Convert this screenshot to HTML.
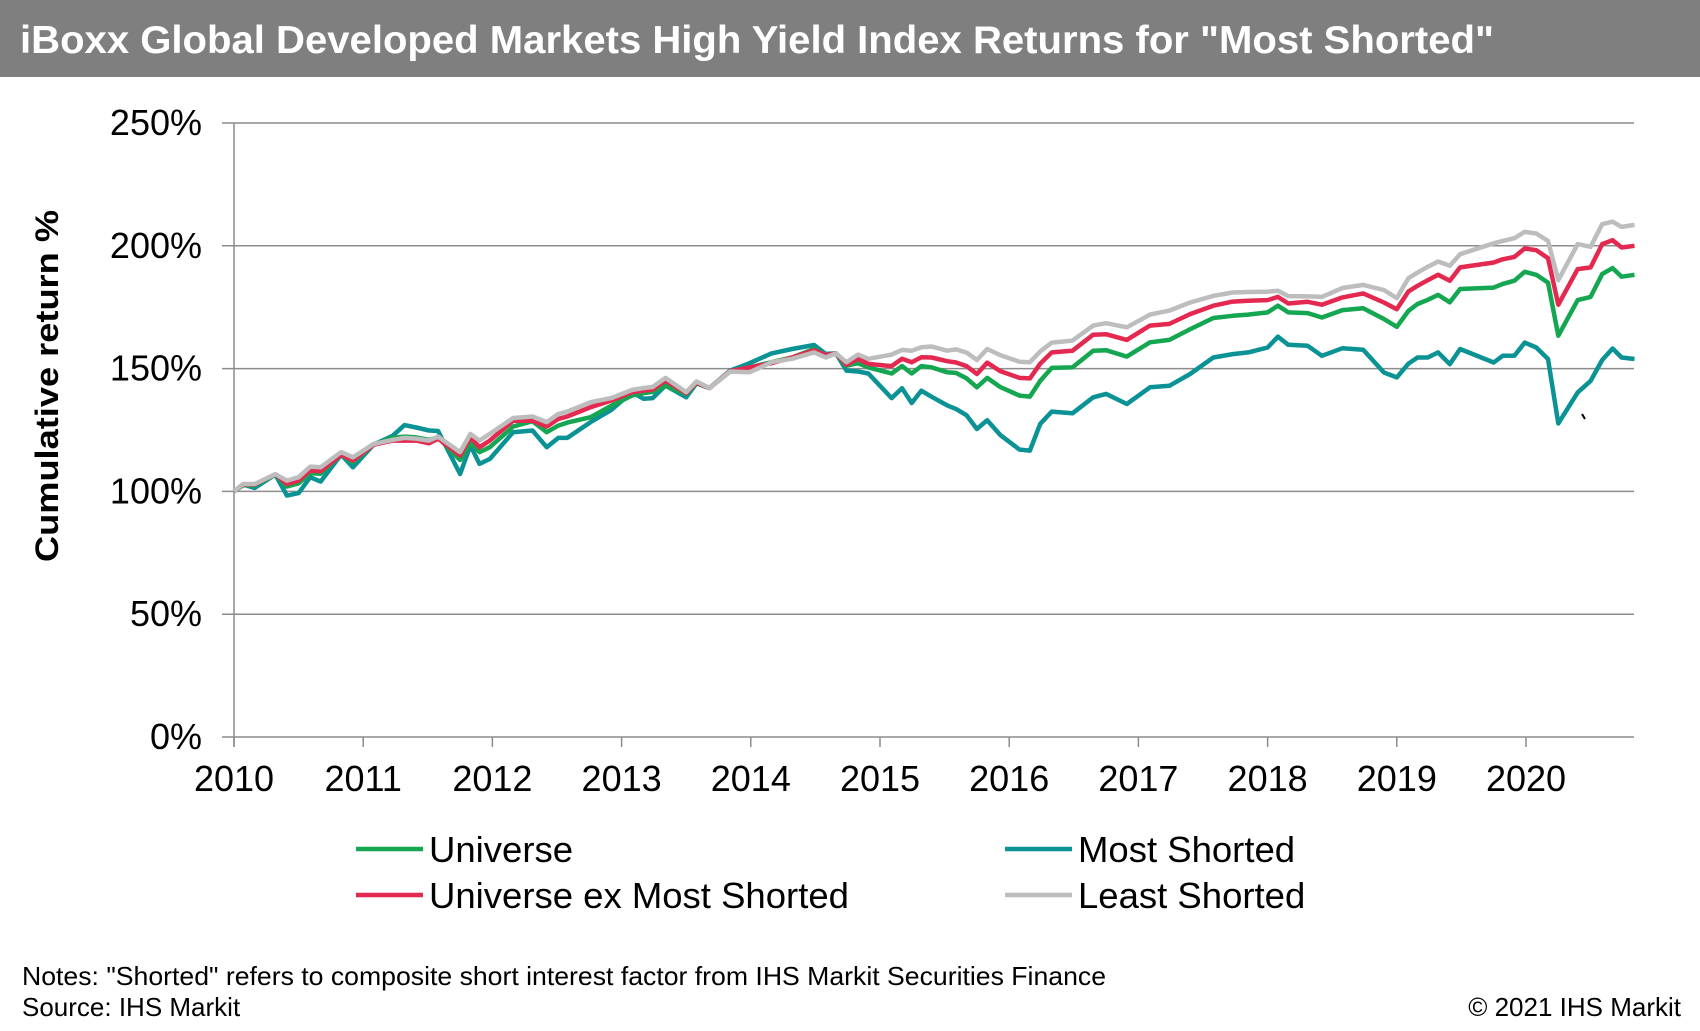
<!DOCTYPE html>
<html><head><meta charset="utf-8">
<style>
html,body{margin:0;padding:0;background:#fff;}
svg{display:block;font-family:"Liberation Sans",Arial,sans-serif;}
</style></head>
<body>
<svg id="chart" width="1700" height="1031" viewBox="0 0 1700 1031" xmlns="http://www.w3.org/2000/svg">
  <rect x="0" y="0" width="1700" height="77" fill="#7f7f7f"/>
  <text x="20" y="53" font-size="39" font-weight="bold" fill="#fff" textLength="1474" lengthAdjust="spacingAndGlyphs">iBoxx Global Developed Markets High Yield Index Returns for "Most Shorted"</text>
  <g id="grid"></g>
  <g id="axes"></g>
  <g id="series"></g>
  <text transform="translate(58,386) rotate(-90)" text-anchor="middle" font-size="32" font-weight="bold" fill="#000" textLength="352" lengthAdjust="spacingAndGlyphs">Cumulative return %</text>
  <g id="legend"></g>
  <line x1="1582" y1="414" x2="1585" y2="419" stroke="#000" stroke-width="2"/>
  <text x="22" y="985" font-size="26" fill="#000" textLength="1084" lengthAdjust="spacingAndGlyphs">Notes: "Shorted" refers to composite short interest factor from IHS Markit Securities Finance</text>
  <text x="22" y="1016" font-size="26" fill="#000">Source: IHS Markit</text>
  <text x="1681" y="1016" font-size="26" fill="#000" text-anchor="end">© 2021 IHS Markit</text>
</svg>
<script>
// Data: years offset from 2010
const dates = [0.00,0.07,0.16,0.32,0.41,0.50,0.59,0.67,0.83,0.92,1.08,1.23,1.32,1.41,1.51,1.58,1.75,1.83,1.90,1.98,2.16,2.31,2.42,2.51,2.58,2.76,2.92,3.08,3.17,3.24,3.34,3.50,3.58,3.68,3.84,3.99,4.16,4.32,4.49,4.58,4.66,4.74,4.83,4.91,5.09,5.17,5.245,5.32,5.40,5.52,5.59,5.67,5.75,5.83,5.93,6.08,6.16,6.24,6.33,6.49,6.65,6.75,6.91,7.09,7.24,7.40,7.58,7.73,7.85,8.0,8.08,8.16,8.31,8.42,8.58,8.74,8.90,9.0,9.09,9.16,9.24,9.32,9.41,9.49,9.75,9.82,9.91,9.99,10.08,10.17,10.25,10.40,10.50,10.59,10.67,10.74,10.84];
const universe = [100,102.5,102.5,106.9,102,103.3,107.4,107.2,115,111.9,119,121.8,122.3,122,121,122,112.8,120,116,118,126.4,128.6,124.1,126.8,128,130.2,134.9,139,140,140.5,143.1,139.7,144,142.1,148.8,150.5,152.6,154.5,158,155.5,156.2,151.2,152.2,150.5,148,151,148,151,150.5,148.5,148.2,146,142.4,146.2,142.5,139,138.6,145,150.3,150.5,157.3,157.5,154.9,160.7,161.7,166,170.6,171.5,172,172.9,175.6,172.9,172.6,170.8,173.8,174.6,170.2,167,173.5,176.3,178,180,177,182.4,183,184.5,185.8,189.4,188.2,185,163.4,177.9,179.2,188.5,190.9,187.4,188.2];
const exMost = [100,102.8,102.8,107,103,104.4,108.5,108.2,115,112.6,119,120.7,120.7,120.7,119.6,121.5,114.6,122,118,120.7,128.8,128.8,126.4,129.5,130.5,134.3,137,140.4,141,141.5,145.1,140,144.4,142.1,149,150.5,152.2,154.5,157.5,155.5,156.2,151.6,154,151.9,151,154,152.6,154.6,154.5,153,152.5,151,147.8,152.4,149,146.2,146,152,156.6,157.3,163.8,164,161.7,167.5,168.2,172.2,175.6,177.3,177.6,177.9,179.2,176.5,177.2,176,179,180.6,176.9,174.2,181.4,183.7,186,188.2,185.8,191.2,193.2,194.5,195.5,198.9,198.2,195,176,190.5,191.2,200.7,202.3,199.3,200];
const mostShorted = [100,102.8,101.4,106.9,98.3,99.3,105.8,104,115,109.8,119,122.7,127,126,124.8,124.6,107.1,118.7,111.2,113.2,124.1,124.8,118,121.8,121.8,128.2,133.2,140.4,137.7,138,143.1,138.3,144,142.1,149.2,152.2,156.2,158,159.6,156,156.2,149.2,148.8,148,138,142,136,141,138.5,135,133.5,131,125.4,129,123,117,116.6,127.5,132.5,131.8,138.3,139.7,135.6,142.4,143,147.8,154.5,155.9,156.6,158.6,163,159.7,159.3,155.2,158.3,157.7,148.4,146.4,152,154.5,154.5,156.6,151.8,158,152.5,155.2,155.2,160.6,158.6,153.9,127.7,140.3,145,153.5,158.2,154.5,153.9];
const leastShorted = [100,103,103,107,104.4,105.8,110.1,109.8,116,113.9,119.3,121,121.8,121.5,120.7,122.3,116,123.4,120.7,123.4,129.9,130.5,128.2,131.5,132.5,136.3,138,141.3,142.1,142.5,146.2,140.4,144.8,142.1,148.8,148.5,152.6,154,156.6,154.5,156.2,152.6,155.7,154,155.7,157.6,157.3,158.7,159,157.3,157.8,156.5,153.5,158,155.5,152.8,152.6,157,160.6,161.4,167.5,168.5,166.8,172,173.6,176.9,179.6,181,181.2,181.3,181.7,179.5,179.4,179.2,182.8,184.1,182,178.7,186.8,189.1,191.5,193.6,191.9,196.6,201,202,203.1,205.7,205,202,186,200.7,199.6,208.8,209.8,207.7,208.5];
const yTicks = [0,50,100,150,200,250];
const yTickLabels = ["0%","50%","100%","150%","200%","250%"];
const xTicks = [0,1,2,3,4,5,6,7,8,9,10];
const xTickLabels = ["2010","2011","2012","2013","2014","2015","2016","2017","2018","2019","2020"];

const NS = "http://www.w3.org/2000/svg";
const X0 = 234, XPY = 129.2, Y0 = 737, YT = 123, XEND = 1634;
function xs(t){ return X0 + t*XPY; }
function ys(v){ return Y0 - (v/250)*(Y0-YT); }
function mk(tag, attrs, parent){ const e=document.createElementNS(NS,tag); for(const k in attrs) e.setAttribute(k,attrs[k]); parent.appendChild(e); return e; }

const grid = document.getElementById('grid');
const axes = document.getElementById('axes');
yTicks.forEach((v,i)=>{
  const y = ys(v);
  const gl = mk('line',{x1:222,y1:y,x2:XEND,y2:y,stroke:'#8c8c8c','stroke-width':1.5},grid);
  
  
  const t = mk('text',{x:202,y:y+12,'font-size':36,'text-anchor':'end',fill:'#000'},axes);
  t.textContent = yTickLabels[i];
  
  
});
const yAxis = mk('line',{x1:X0,y1:YT,x2:X0,y2:Y0+10,stroke:'#8c8c8c','stroke-width':1.5},axes);


xTicks.forEach((t,i)=>{
  const x = xs(t);
  const tk = mk('line',{x1:x,y1:Y0,x2:x,y2:Y0+10,stroke:'#8c8c8c','stroke-width':1.5},axes);
  
  
  const lb = mk('text',{x:x,y:791,'font-size':36,'text-anchor':'middle',fill:'#000'},axes);
  lb.textContent = xTickLabels[i];
  
  
});

const seriesG = document.getElementById('series');
const defs = [
  {name:'most-shorted-line', vals:mostShorted, color:'#0b9294'},
  {name:'universe-line', vals:universe, color:'#14a650'},
  {name:'universe-ex-most-shorted-line', vals:exMost, color:'#e3294f'},
  {name:'least-shorted-line', vals:leastShorted, color:'#bdbdbd'}
];
defs.forEach(d=>{
  const pts = dates.map((t,i)=>xs(t).toFixed(1)+','+ys(d.vals[i]).toFixed(1)).join(' ');
  const pl = mk('polyline',{points:pts,fill:'none',stroke:d.color,'stroke-width':4.5,'stroke-linejoin':'round'},seriesG);
  
  
});

const legend = document.getElementById('legend');
const legItems = [
  {label:'Universe', color:'#14a650', x:356, y:849},
  {label:'Universe ex Most Shorted', color:'#e3294f', x:356, y:895},
  {label:'Most Shorted', color:'#0b9294', x:1005, y:849},
  {label:'Least Shorted', color:'#bdbdbd', x:1005, y:895}
];
legItems.forEach(it=>{
  const g = mk('g',{},legend);
  
  
  const ln = mk('line',{x1:it.x,y1:it.y,x2:it.x+67,y2:it.y,stroke:it.color,'stroke-width':4.5},g);
  
  
  const tx = mk('text',{x:it.x+73,y:it.y+13,'font-size':36.5,fill:'#000'},g);
  tx.textContent = it.label;
  
  
});
</script>
</body></html>
